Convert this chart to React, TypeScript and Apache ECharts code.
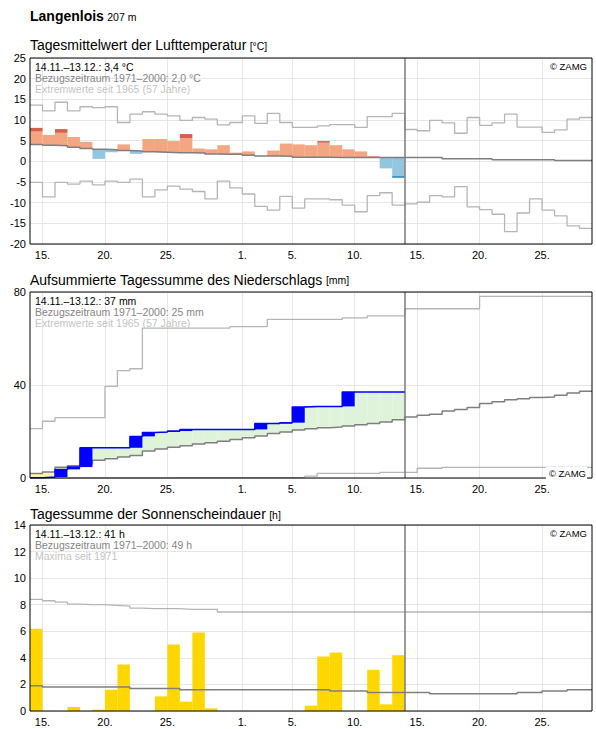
import { useEffect, useRef } from 'react';
import * as echarts from 'echarts';

const FONT = '"Liberation Sans", Arial, Helvetica, sans-serif';
const DAYS = 45; // 14.11. – 28.12.
const TODAY = 30; // 14.12., first day after the reporting period

// Day boundaries that carry a date label
const tickDays = [1, 6, 11, 17, 21, 26, 31, 36, 41];
const tickLabels = ['15.', '20.', '25.', '1.', '5.', '10.', '15.', '20.', '25.'];

// ---- Air temperature, daily means [°C] ----
const tempMean = [
  8.1, 6.4, 7.8, 5.9, 4.7, 0.6, 2.2, 4.1, 1.8, 5.4,
  5.4, 4.9, 6.6, 3.1, 2.9, 3.9, 2.1, 2.4, 1.3, 2.6,
  4.3, 4.1, 3.9, 4.9, 3.9, 2.9, 2.4, 1.3, -1.7, -4.0,
];
// value from which a day counts as unusually warm / cold (darker shade)
const tempCapFrom: (number | null)[] = [
  7.2, null, 6.9, null, null, null, null, null, null, null,
  null, null, 5.6, null, null, null, null, null, null, null,
  null, null, null, 4.5, null, null, null, null, null, -3.5,
];
const tempNormal = [
  4.1, 3.9, 3.8, 3.4, 3.1, 2.9, 2.8, 2.6, 2.5, 2.3,
  2.2, 2.1, 2.1, 2.0, 1.8, 1.7, 1.7, 1.5, 1.3, 1.3,
  1.2, 1.0, 1.0, 1.0, 0.9, 0.9, 0.9, 0.9, 0.9, 0.9,
  0.9, 0.9, 0.9, 0.65, 0.65, 0.65, 0.65, 0.4, 0.4, 0.4,
  0.4, 0.4, 0.2, 0.2, 0.2,
];
const tempMax = [
  13.6, 12.2, 14.3, 12.2, 13.2, 13.0, 13.2, 9.4, 11.4, 12.0,
  11.4, 11.0, 9.9, 10.6, 10.2, 8.8, 9.4, 11.0, 9.2, 11.6,
  9.4, 8.2, 8.2, 8.6, 8.9, 8.9, 8.2, 10.8, 10.8, 11.6,
  7.7, 7.4, 9.9, 9.3, 6.8, 10.6, 8.7, 9.3, 11.4, 8.3,
  8.3, 7.0, 7.6, 10.2, 10.6,
];
const tempMin = [
  -5.1, -8.6, -5.1, -5.5, -4.8, -5.7, -4.8, -5.1, -4.3, -8.6,
  -6.9, -6.0, -6.7, -7.3, -9.1, -4.8, -6.4, -7.9, -10.9, -11.8,
  -8.5, -11.3, -9.1, -9.1, -9.3, -10.6, -12.2, -8.3, -7.6, -10.6,
  -10.3, -9.9, -8.3, -8.6, -6.1, -11.0, -11.7, -12.8, -17.0, -12.5,
  -9.1, -11.8, -13.2, -15.6, -16.2,
];

// ---- Precipitation [mm] ----
const precipDaily = [
  0.1, 0.3, 3.3, 1.0, 8.3, 0, 0, 0, 4.9, 1.7,
  0.2, 0.4, 0.7, 0, 0, 0, 0, 0, 2.5, 0,
  0.4, 6.7, 0.3, 0, 0, 6.2, 0, 0, 0, 0,
];
// accumulated sums since 14.11.
const precipNormal = [
  1.9, 2.6, 4.6, 5.3, 6.0, 7.6, 8.3, 9.0, 9.7, 11.6,
  12.5, 13.2, 13.9, 14.6, 15.2, 15.8, 16.6, 17.3, 18.1, 19.1,
  19.8, 20.6, 21.2, 21.6, 21.9, 22.4, 22.9, 23.4, 24.1, 25.1,
  26.2, 27.0, 27.4, 28.8, 29.5, 30.3, 32.0, 32.8, 33.7, 34.1,
  34.6, 34.8, 35.6, 36.6, 37.3,
];
const precipMax = [
  21.2, 24.4, 26.0, 26.0, 26.0, 26.0, 39.4, 46.2, 47.0, 64.5,
  64.5, 64.5, 64.5, 64.5, 64.5, 64.5, 65.1, 65.1, 65.1, 68.2,
  68.2, 68.2, 68.2, 68.2, 68.2, 68.9, 68.9, 69.7, 69.7, 69.7,
  72.8, 72.8, 72.8, 72.8, 72.8, 72.8, 78.1, 78.1, 78.1, 78.1,
  78.1, 78.1, 78.1, 78.1, 78.1,
];
const precipMin = [
  0, 0, 0, 0, 0, 0, 0, 0, 0, 0,
  0, 0.1, 0.1, 0.1, 0.1, 0.1, 0.1, 0.1, 0.1, 0.1,
  0.1, 0.3, 0.8, 2.0, 2.0, 2.0, 2.0, 2.0, 2.4, 2.4,
  2.4, 4.2, 4.2, 4.6, 4.6, 4.6, 4.6, 4.6, 4.6, 4.6,
  4.6, 4.6, 4.6, 4.6, 4.6,
];

// ---- Sunshine duration [h] ----
const sunDaily = [
  6.2, 0, 0, 0.3, 0, 0.1, 1.6, 3.5, 0, 0,
  1.1, 5.0, 0.7, 5.9, 0.2, 0, 0, 0, 0, 0,
  0, 0, 0.4, 4.1, 4.4, 0, 0, 3.1, 0.5, 4.2,
];
const sunNormal = [
  1.9, 1.8, 1.8, 1.8, 1.8, 1.8, 1.8, 1.8, 1.7, 1.7,
  1.7, 1.7, 1.6, 1.6, 1.6, 1.6, 1.6, 1.6, 1.6, 1.6,
  1.6, 1.6, 1.6, 1.6, 1.5, 1.5, 1.5, 1.4, 1.4, 1.4,
  1.4, 1.4, 1.3, 1.3, 1.3, 1.3, 1.3, 1.3, 1.3, 1.4,
  1.4, 1.5, 1.5, 1.6, 1.6,
];
const sunMax = [
  8.4, 8.3, 8.2, 8.05, 8.0, 8.0, 7.95, 7.9, 7.75, 7.7,
  7.7, 7.7, 7.65, 7.65, 7.65, 7.45, 7.45, 7.45, 7.45, 7.45,
  7.45, 7.45, 7.45, 7.45, 7.45, 7.45, 7.45, 7.45, 7.45, 7.45,
  7.45, 7.45, 7.45, 7.45, 7.45, 7.45, 7.45, 7.45, 7.45, 7.45,
  7.45, 7.45, 7.45, 7.45, 7.45,
];

// ---- layout ----
const PLOT_LEFT = 30;
const PLOT_WIDTH = 562;
const PLOT_HEIGHT = 186;
const PANEL_TOPS = [58, 292, 525];

const C = {
  grid: '#e6e6e6',
  extreme: '#b5b5b5',
  normal: '#7f7f7f',
  warm: '#f4a582',
  warmStrong: '#d6604d',
  cold: '#92c5de',
  coldStrong: '#4393c3',
  precip: '#0000ff',
  wetter: '#dff2da',
  drier: '#fff3b3',
  sun: '#ffd700',
};

type Row = [number, number, number];

// [x, y] pairs for a per-day step line, closed at the end of the last day
const steps = (vals: number[]) => [
  ...vals.map((v, i) => [i, v]),
  [vals.length, vals[vals.length - 1]],
];

const notNull = <T,>(v: T | null): v is T => v !== null;

function rectSeries(idx: number, data: Row[], color: string, z = 2) {
  return {
    type: 'custom',
    xAxisIndex: idx,
    yAxisIndex: idx,
    silent: true,
    z,
    encode: { x: 0, y: [1, 2] },
    data,
    renderItem: (_p: any, api: any) => {
      const i = api.value(0);
      const a = api.coord([i, api.value(2)]);
      const b = api.coord([i + 1, api.value(1)]);
      return {
        type: 'rect',
        shape: { x: a[0], y: a[1], width: b[0] - a[0], height: b[1] - a[1] },
        style: { fill: color },
      };
    },
  };
}

function stepLine(idx: number, vals: number[], color: string, width: number, z = 3, extra: any = {}) {
  return {
    type: 'line',
    xAxisIndex: idx,
    yAxisIndex: idx,
    data: steps(vals),
    step: 'end',
    symbol: 'none',
    showSymbol: false,
    silent: true,
    z,
    lineStyle: { color, width },
    ...extra,
  };
}

const todayMark = {
  markLine: {
    silent: true,
    symbol: ['none', 'none'],
    label: { show: false },
    lineStyle: { color: '#7a7a7a', width: 1.5, type: 'solid' },
    data: [{ xAxis: TODAY }],
  },
};

function text(x: number, y: number, t: string, size: number, color: string, extra: any = {}) {
  return {
    type: 'text',
    x,
    y,
    z: 50,
    silent: true,
    style: {
      text: t,
      fill: color,
      font: `${size}px ${FONT}`,
      fontFamily: FONT,
      fontSize: size,
      align: 'left',
      textAlign: 'left',
      verticalAlign: 'middle',
      textVerticalAlign: 'middle',
      ...extra,
    },
  };
}

function richTitle(x: number, y: number, main: string, unit: string, mainSize: number, bold = false) {
  return {
    type: 'text',
    x,
    y,
    z: 50,
    silent: true,
    style: {
      text: `{a|${main}} {b|${unit}}`,
      verticalAlign: 'middle',
      textVerticalAlign: 'middle',
      rich: {
        a: { fontSize: mainSize, fontFamily: FONT, fontWeight: bold ? 'bold' : 'normal', fill: '#000', color: '#000', verticalAlign: 'bottom', lineHeight: mainSize + 2 },
        b: { fontSize: 10.5, fontFamily: FONT, fill: '#000', color: '#000', verticalAlign: 'bottom', lineHeight: mainSize + 2, padding: [0, 0, 1, 0] },
      },
    },
  };
}

export default function App() {
  const ref = useRef<HTMLDivElement>(null);

  useEffect(() => {
    if (!ref.current) return;
    const chart = echarts.init(ref.current, undefined, { renderer: 'svg' });

    // temperature bars relative to the long-term mean
    const warm: Row[] = tempMean
      .map((v, i): Row | null => (v > tempNormal[i] ? [i, tempNormal[i], tempCapFrom[i] ?? v] : null))
      .filter(notNull);
    const warmCap: Row[] = tempMean
      .map((v, i): Row | null => (v > tempNormal[i] && tempCapFrom[i] != null ? [i, tempCapFrom[i] as number, v] : null))
      .filter(notNull);
    const cold: Row[] = tempMean
      .map((v, i): Row | null => (v < tempNormal[i] ? [i, tempCapFrom[i] ?? v, tempNormal[i]] : null))
      .filter(notNull);
    const coldCap: Row[] = tempMean
      .map((v, i): Row | null => (v < tempNormal[i] && tempCapFrom[i] != null ? [i, v, tempCapFrom[i] as number] : null))
      .filter(notNull);

    // accumulated precipitation
    const precipCum: number[] = [];
    precipDaily.reduce((s, v) => {
      const t = Math.round((s + v) * 10) / 10;
      precipCum.push(t);
      return t;
    }, 0);
    const wetter: Row[] = precipCum
      .map((c, i): Row | null => (c > precipNormal[i] ? [i, precipNormal[i], c] : null))
      .filter(notNull);
    const drier: Row[] = precipCum
      .map((c, i): Row | null => (c < precipNormal[i] ? [i, c, precipNormal[i]] : null))
      .filter(notNull);
    const increments: Row[] = precipDaily
      .map((d, i): Row | null => (d > 0 ? [i, precipCum[i] - d, precipCum[i]] : null))
      .filter(notNull);

    const sunBars: Row[] = sunDaily
      .map((v, i): Row | null => (v > 0 ? [i, 0, v] : null))
      .filter(notNull);

    const grids = PANEL_TOPS.map((top) => ({
      left: PLOT_LEFT,
      top,
      width: PLOT_WIDTH,
      height: PLOT_HEIGHT,
      show: true,
      z: 20,
      backgroundColor: 'transparent',
      borderColor: '#000',
      borderWidth: 1,
    }));

    const xAxes = PANEL_TOPS.map((_t, k) => ({
      gridIndex: k,
      type: 'value',
      min: 0,
      max: DAYS,
      axisLine: { show: false },
      axisTick: { show: false, customValues: tickDays },
      axisLabel: {
        customValues: tickDays,
        formatter: (v: number) => tickLabels[tickDays.indexOf(v)] ?? '',
        fontSize: 11,
        fontFamily: FONT,
        color: '#000',
        margin: 5,
      },
      splitLine: { show: true, lineStyle: { color: C.grid, width: 1 } },
    }));

    const yBase = {
      type: 'value',
      axisLine: { show: false },
      axisTick: { show: false },
      axisLabel: { fontSize: 11, fontFamily: FONT, color: '#000', margin: 4 },
      splitLine: { show: true, lineStyle: { color: C.grid, width: 1 } },
    };
    const yAxes = [
      { ...yBase, gridIndex: 0, min: -20, max: 25, interval: 5 },
      { ...yBase, gridIndex: 1, min: 0, max: 80, interval: 40 },
      { ...yBase, gridIndex: 2, min: 0, max: 14, interval: 2 },
    ];

    const infoLines = (top: number, l1: string, l2: string, l3: string) => [
      text(35, top + 8.5, l1, 10.5, '#000'),
      text(35, top + 19.8, l2, 10.5, '#858585'),
      text(35, top + 31, l3, 10.5, '#c4c4c4'),
    ];
    const zamg = (y: number, boxed = false) =>
      text(587, y, '© ZAMG', 9.5, '#000', {
        align: 'right',
        textAlign: 'right',
        ...(boxed ? { backgroundColor: '#fff', padding: [1, 1, 1, 3] } : {}),
      });

    const option: any = {
      animation: false,
      backgroundColor: '#fff',
      grid: grids,
      xAxis: xAxes,
      yAxis: yAxes,
      series: [
        // temperature
        rectSeries(0, warm, C.warm),
        rectSeries(0, warmCap, C.warmStrong),
        rectSeries(0, cold, C.cold),
        rectSeries(0, coldCap, C.coldStrong),
        stepLine(0, tempMax, C.extreme, 1.3),
        stepLine(0, tempMin, C.extreme, 1.3),
        stepLine(0, tempNormal, C.normal, 1.5, 4, todayMark),

        // precipitation
        rectSeries(1, wetter, C.wetter, 1),
        rectSeries(1, drier, C.drier, 1),
        stepLine(1, precipMax, C.extreme, 1.3),
        stepLine(1, precipMin, C.extreme, 1.3),
        stepLine(1, precipNormal, C.normal, 1.5, 4, todayMark),
        rectSeries(1, increments, C.precip, 5),
        stepLine(1, precipCum, C.precip, 1.5, 5),

        // sunshine
        rectSeries(2, sunBars, C.sun),
        stepLine(2, sunMax, C.extreme, 1.3),
        stepLine(2, sunNormal, C.normal, 1.5, 4, todayMark),
      ],
      graphic: [
        richTitle(30, 15, 'Langenlois', '207 m', 14, true),
        richTitle(30, 44, 'Tagesmittelwert der Lufttemperatur', '[°C]', 14),
        richTitle(30, 278.5, 'Aufsummierte Tagessumme des Niederschlags', '[mm]', 14),
        richTitle(30, 513, 'Tagessumme der Sonnenscheindauer', '[h]', 14),
        ...infoLines(PANEL_TOPS[0], '14.11.–13.12.: 3,4 °C', 'Bezugszeitraum 1971–2000: 2,0 °C', 'Extremwerte seit 1965 (57 Jahre)'),
        ...infoLines(PANEL_TOPS[1], '14.11.–13.12.: 37 mm', 'Bezugszeitraum 1971–2000: 25 mm', 'Extremwerte seit 1965 (57 Jahre)'),
        ...infoLines(PANEL_TOPS[2], '14.11.–13.12.: 41 h', 'Bezugszeitraum 1971–2000: 49 h', 'Maxima seit 1971'),
        zamg(66),
        zamg(473, true),
        zamg(533),
      ],
    };

    chart.setOption(option);
    return () => chart.dispose();
  }, []);

  return (
    <div
      ref={ref}
      style={{ position: 'absolute', left: 0, top: 0, width: 596, height: 729, background: '#fff' }}
    />
  );
}
